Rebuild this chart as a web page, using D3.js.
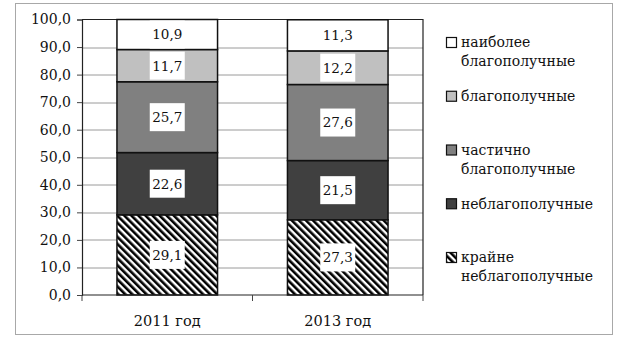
<!DOCTYPE html>
<html>
<head>
<meta charset="utf-8">
<script src="https://cdn.jsdelivr.net/npm/d3@7"></script>
<style>
  body { margin: 0; background: #fff; }
</style>
</head>
<body>
<script>
// chart data
var years = ["2011 год", "2013 год"];
var groups = ["крайне неблагополучные", "неблагополучные", "частично благополучные", "благополучные", "наиболее благополучные"];
var values2011 = [29.1, 22.6, 25.7, 11.7, 10.9];
var values2013 = [27.3, 21.5, 27.6, 12.2, 11.3];
var yTicks = [0, 10, 20, 30, 40, 50, 60, 70, 80, 90, 100];

// legend lines, top to bottom (reverse of stack order)
var legendLines = [
  ["наиболее", "благополучные"],
  ["благополучные"],
  ["частично", "благополучные"],
  ["неблагополучные"],
  ["крайне", "неблагополучные"]
];

var fills = ["url(#hatch)", "#404040", "#808080", "#c0c0c0", "#ffffff"];
var FONT = "DejaVu Serif"; // Liberation Serif falls back to sans at 16px+ here

// set the dimensions and margins of the graph
var W = 620, H = 348;
var margin = {top: 19.5, left: 82, right: 197, bottom: 53};
var width = W - margin.left - margin.right,
    height = H - margin.top - margin.bottom;

var svg = d3.select("body").append("svg")
    .attr("width", W)
    .attr("height", H);

// hatch pattern for the "крайне" series
var defs = svg.append("defs");
var pat = defs.append("pattern")
    .attr("id", "hatch")
    .attr("patternUnits", "userSpaceOnUse")
    .attr("width", 5)
    .attr("height", 5)
    .attr("patternTransform", "rotate(-45)");
pat.append("rect").attr("width", 5).attr("height", 5).attr("fill", "#fff");
pat.append("rect").attr("width", 2.6).attr("height", 5).attr("fill", "#000");

// outer frame
svg.append("rect")
    .attr("x", 15.5).attr("y", 3.5)
    .attr("width", 597).attr("height", 331)
    .attr("fill", "none")
    .attr("stroke", "#a8a8a8")
    .attr("stroke-width", 1);

var g = svg.append("g")
    .attr("transform", "translate(" + margin.left + "," + margin.top + ")");

// set the ranges
var x = d3.scaleBand()
    .domain(years)
    .range([0, width])
    .paddingInner(0.41)
    .paddingOuter(0.205);
var y = d3.scaleLinear()
    .domain([0, 100])
    .range([height, 0]);

// gridlines
g.selectAll(".grid")
    .data(yTicks.slice(1, -1))
  .enter().append("line")
    .attr("x1", 0).attr("x2", width)
    .attr("y1", function(d) { return Math.round(y(d)) + 0.5; })
    .attr("y2", function(d) { return Math.round(y(d)) + 0.5; })
    .attr("stroke", "#9a9a9a");

// plot frame (top and right)
g.append("path")
    .attr("d", "M0," + y(100) + "H" + width + "V" + height)
    .attr("fill", "none")
    .attr("stroke", "#222")
    .attr("stroke-width", 1.2);

// stack the series
var rows = years.map(function(yr, i) {
  var vals = i === 0 ? values2011 : values2013;
  var r = {year: yr};
  groups.forEach(function(gname, k) { r[gname] = vals[k]; });
  return r;
});
var series = d3.stack().keys(groups)(rows);

var layer = g.selectAll(".layer")
    .data(series)
  .enter().append("g")
    .attr("class", "layer")
    .attr("fill", function(d, i) { return fills[i]; });

layer.selectAll("rect")
    .data(function(d) { return d; })
  .enter().append("rect")
    .attr("x", function(d) { return x(d.data.year); })
    .attr("width", x.bandwidth())
    .attr("y", function(d) { return y(d[1]); })
    .attr("height", function(d) { return y(d[0]) - y(d[1]); })
    .attr("stroke", "#111")
    .attr("stroke-width", 1.5);

// value labels in white boxes
var fmt = function(v) { return d3.format(".1f")(v).replace(".", ","); };

layer.each(function(s, si) {
  d3.select(this).selectAll(".lbl")
      .data(s)
    .enter().append("g")
      .attr("class", "lbl")
      .each(function(d) {
        var cx = x(d.data.year) + x.bandwidth() / 2;
        var cy = (y(d[0]) + y(d[1])) / 2;
        var segH = y(d[0]) - y(d[1]);
        var bh = Math.min(28, segH - 2);
        var t = d3.select(this);
        t.append("rect")
          .attr("x", cx - 17.5).attr("y", cy - bh / 2)
          .attr("width", 35).attr("height", bh)
          .attr("fill", "#fff");
        t.append("text")
          .attr("x", cx).attr("y", cy)
          .attr("dy", "0.36em")
          .attr("text-anchor", "middle")
          .attr("fill", "#111")
          .attr("font-family", FONT)
          .attr("font-size", 13.5)
          .text(fmt(d[1] - d[0]));
      });
});

// add the y Axis
var yAxis = g.append("g")
    .call(d3.axisLeft(y).tickValues(yTicks).tickSize(5).tickPadding(6).tickFormat(fmt))
    .attr("font-family", FONT)
    .attr("font-size", 14);
yAxis.select(".domain").attr("stroke", "#222").attr("stroke-width", 1.2);
yAxis.selectAll(".tick line").attr("stroke", "#444");
yAxis.selectAll("text").attr("fill", "#111");

// add the x Axis (ticks at band boundaries)
g.append("line")
    .attr("x1", 0).attr("x2", width)
    .attr("y1", height).attr("y2", height)
    .attr("stroke", "#222").attr("stroke-width", 1.2);
g.selectAll(".xtick")
    .data(d3.range(years.length + 1))
  .enter().append("line")
    .attr("x1", function(i) { return x.range()[0] + i * x.step(); })
    .attr("x2", function(i) { return x.range()[0] + i * x.step(); })
    .attr("y1", height).attr("y2", height + 6)
    .attr("stroke", "#444");
g.selectAll(".xlbl")
    .data(years)
  .enter().append("text")
    .attr("x", function(d) { return x(d) + x.bandwidth() / 2; })
    .attr("y", height + 31)
    .attr("text-anchor", "middle")
    .attr("fill", "#111")
    .attr("font-family", FONT)
    .attr("font-size", 14.5)
    .text(function(d) { return d; });

// legend
var legend = svg.append("g").attr("transform", "translate(446,0)");
var legFills = fills.slice().reverse();
var item = legend.selectAll(".item")
    .data(legendLines)
  .enter().append("g")
    .attr("transform", function(d, i) { return "translate(0," + (42 + i * 53.75) + ")"; });
item.append("rect")
    .attr("x", 0.5).attr("y", -4.5)
    .attr("width", 10).attr("height", 10)
    .attr("fill", function(d, i) { return legFills[i]; })
    .attr("stroke", "#111")
    .attr("stroke-width", 1.2);
item.each(function(lines) {
  var t = d3.select(this).append("text")
      .attr("x", 15)
      .attr("y", 0)
      .attr("fill", "#111")
      .attr("font-family", FONT)
      .attr("font-size", 14);
  lines.forEach(function(l, k) {
    t.append("tspan")
      .attr("x", 15)
      .attr("dy", k === 0 ? "0.38em" : "1.36em")
      .text(l);
  });
});
</script>
</body>
</html>
